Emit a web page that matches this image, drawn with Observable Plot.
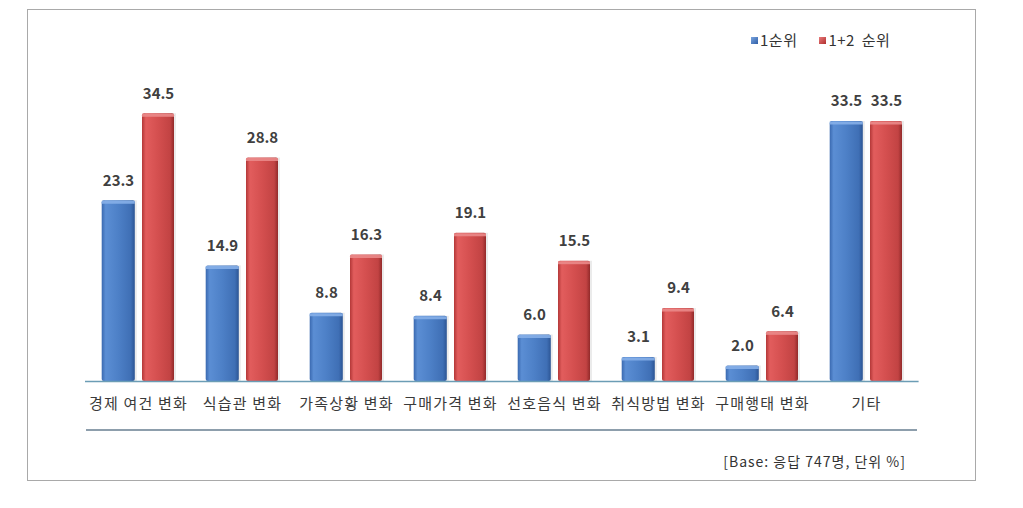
<!DOCTYPE html>
<html>
<head>
<meta charset="utf-8">
<script src="https://cdn.jsdelivr.net/npm/d3@7"></script>
<script src="https://cdn.jsdelivr.net/npm/@observablehq/plot@0.6"></script>
<style>
  html, body { margin: 0; padding: 0; background: #fff; }
  body { width: 1023px; height: 508px; position: relative; overflow: hidden;
         font-family: "Noto Sans CJK KR", "Noto Sans", sans-serif; color: #333; }
  #frame { position: absolute; left: 27px; top: 9px; width: 949px; height: 472px;
           box-sizing: border-box; border: 1px solid #a9a9a9; }
  #chart { position: absolute; left: 0; top: 0; }
  #legend { position: absolute; top: 30px; left: 751px; font-size: 15px; line-height: 20px;
            color: #333; white-space: nowrap; display: flex; align-items: center; letter-spacing: 0.5px; word-spacing: 3px; }
  #legend .sw { display: inline-block; width: 7px; height: 7px; margin-right: 2px; }
  #legend .item { display: inline-flex; align-items: center; }
  #rule { position: absolute; left: 86px; top: 429px; width: 831px; height: 0;
          border-top: 2px solid #8d9eac; }
  #caption { position: absolute; right: 117px; top: 451px; font-size: 14px; line-height: 20px; color: #333; letter-spacing: 1px; }
</style>
</head>
<body>
<div id="frame"></div>
<div id="chart"></div>
<div id="legend"></div>
<div id="rule"></div>
<div id="caption"></div>
<script>
const categories = ["경제 여건 변화", "식습관 변화", "가족상황 변화", "구매가격 변화", "선호음식 변화", "취식방법 변화", "구매행태 변화", "기타"];
const rank1 = [23.3, 14.9, 8.8, 8.4, 6.0, 3.1, 2.0, 33.5];
const rank12 = [34.5, 28.8, 16.3, 19.1, 15.5, 9.4, 6.4, 33.5];
const seriesNames = ["1순위", "1+2 순위"];
const captionText = "[Base: 응답 747명, 단위 %]";

const data = categories.map((c, i) => ({cat: c, v1: rank1[i], v2: rank12[i]}));

const blueIn = {insetLeft: 15.7, insetRight: 55.2};
const redIn = {insetLeft: 56, insetRight: 16};

const svg = Plot.plot({
  width: 1023,
  height: 440,
  marginLeft: 85,
  marginRight: 104.4,
  marginTop: 70.6,
  marginBottom: 59,
  style: {fontFamily: "'Noto Sans CJK KR', sans-serif", background: "transparent", color: "#404040"},
  x: {domain: categories, padding: 0},
  y: {domain: [0, 40], axis: null},
  marks: [
    Plot.axisX({tickSize: 0, tickPadding: 17, fontSize: 15, fill: "#3a3a3a", label: null}),
    // soft shadows
    Plot.barY(data, {x: "cat", y: "v1", ...blueIn, fill: "#000", fillOpacity: 0.08, dx: 2}),
    Plot.barY(data, {x: "cat", y: "v2", ...redIn, fill: "#000", fillOpacity: 0.08, dx: 2}),
    Plot.barY(data, {x: "cat", y: "v1", ...blueIn, fill: "url(#gBlue)", rx: 2}),
    Plot.barY(data, {x: "cat", y: "v2", ...redIn, fill: "url(#gRed)", rx: 2}),
    Plot.tickY(data, {x: "cat", y: "v1", ...blueIn, stroke: "#86afe8", strokeWidth: 3, dy: 1.5, strokeOpacity: 0.9}),
    Plot.tickY(data, {x: "cat", y: "v2", ...redIn, stroke: "#ea8a8a", strokeWidth: 3, dy: 1.5, strokeOpacity: 0.9}),
    Plot.ruleY([0], {stroke: "#6b9db5", strokeWidth: 1.5}),
    Plot.text(data, {x: "cat", y: "v1", text: d => d.v1.toFixed(1), dx: -20, dy: -20, fontSize: 15, fontWeight: "bold", fill: "#404040"}),
    Plot.text(data, {x: "cat", y: "v2", text: d => d.v2.toFixed(1), dx: 20, dy: -20, fontSize: 15, fontWeight: "bold", fill: "#404040"})
  ]
});

d3.select(svg).selectAll("[aria-label='x-axis tick label'] text").style("letter-spacing", "1.2px");

const defs = d3.select(svg).insert("defs", ":first-child");
function grad(id, stops) {
  const g = defs.append("linearGradient").attr("id", id).attr("x1", 0).attr("x2", 1).attr("y1", 0).attr("y2", 0);
  stops.forEach(([o, c]) => g.append("stop").attr("offset", o).attr("stop-color", c));
}
grad("gBlue", [["0%", "#3a69b0"], ["12%", "#5b8ed4"], ["50%", "#4d80c7"], ["88%", "#3f6fb5"], ["100%", "#2c5594"]]);
grad("gRed", [["0%", "#b33838"], ["12%", "#e25d5d"], ["50%", "#d44f4f"], ["88%", "#c24343"], ["100%", "#922a2a"]]);

document.getElementById("chart").appendChild(svg);

const legend = document.getElementById("legend");
const swatchBg = ["linear-gradient(135deg,#7aa5e0,#2f5ea6)", "linear-gradient(135deg,#e87a7a,#b02e2e)"];
seriesNames.forEach((name, i) => {
  const item = document.createElement("span");
  item.className = "item";
  item.style.marginRight = i === 0 ? "22px" : "0";
  const sw = document.createElement("span");
  sw.className = "sw";
  sw.style.background = swatchBg[i];
  item.appendChild(sw);
  item.appendChild(document.createTextNode(name));
  legend.appendChild(item);
});
document.getElementById("caption").textContent = captionText;
</script>
</body>
</html>
